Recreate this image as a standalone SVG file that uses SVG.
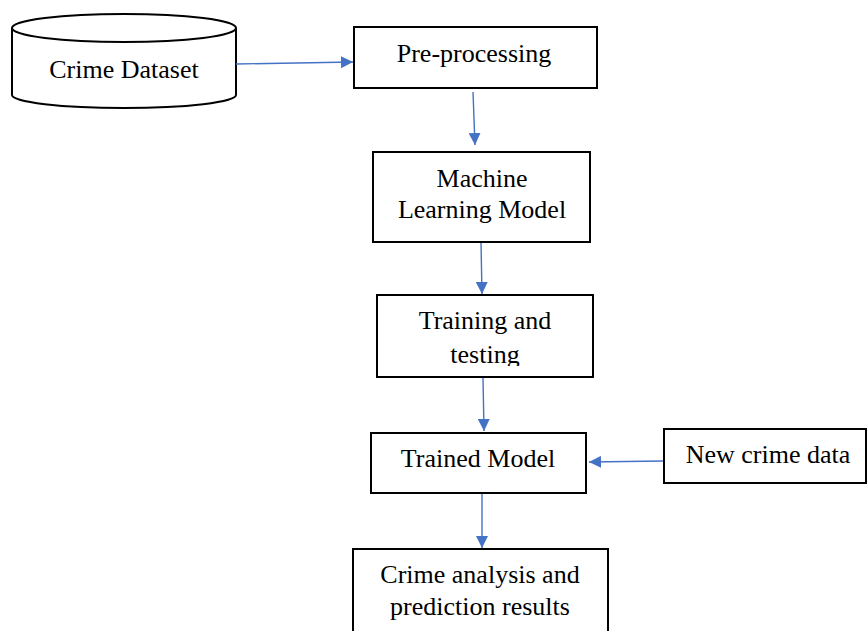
<svg xmlns="http://www.w3.org/2000/svg" width="867" height="631" viewBox="0 0 867 631">
<defs>
<style>
.box{fill:#fff;stroke:#000;stroke-width:2}
.t{font-family:"Liberation Serif","Times New Roman",serif;font-size:26px;fill:#000;text-anchor:middle}
.c{stroke:#4472C4;stroke-width:1.4;fill:none}
</style>
<marker id="ah" markerWidth="12" markerHeight="12" refX="12" refY="6" orient="auto" markerUnits="userSpaceOnUse">
<path d="M0,0 L12,6 L0,12 Z" fill="#4472C4"/>
</marker>
</defs>
<rect width="867" height="631" fill="#fff"/>
<g id="crime-dataset">
<path class="box" d="M12,28 A112,14 0 0 1 236,28 L236,95 A112,13 0 0 1 12,95 Z"/>
<path class="box" d="M12,28 A112,14 0 0 0 236,28" fill="none"/>
<text class="t" x="124" y="78">Crime Dataset</text>
</g>
<g id="pre-processing">
<rect class="box" x="354" y="27" width="243" height="61"/>
<text class="t" x="474" y="62">Pre-processing</text>
</g>
<g id="ml-model">
<rect class="box" x="373" y="152" width="217" height="90"/>
<text class="t" x="482" y="187">Machine</text>
<text class="t" x="482" y="218">Learning Model</text>
</g>
<g id="training">
<rect class="box" x="377" y="295" width="216" height="82"/>
<text class="t" x="485" y="329">Training and</text>
<text class="t" x="485" y="363">testing</text>
<rect x="378" y="366" width="214" height="10" fill="#fff"/>
</g>
<g id="trained-model">
<rect class="box" x="371" y="433" width="215" height="60"/>
<text class="t" x="478" y="467">Trained Model</text>
</g>
<g id="new-crime-data">
<rect class="box" x="664" y="429" width="202" height="54"/>
<text class="t" x="768" y="463">New crime data</text>
</g>
<g id="results">
<rect class="box" x="353" y="549" width="255" height="90"/>
<text class="t" x="480" y="583">Crime analysis and</text>
<text class="t" x="480" y="615">prediction results</text>
</g>
<g id="connectors">
<line class="c" x1="236" y1="64" x2="353" y2="62" marker-end="url(#ah)"/>
<line class="c" x1="473" y1="92" x2="475" y2="145" marker-end="url(#ah)"/>
<line class="c" x1="481" y1="243" x2="482" y2="294" marker-end="url(#ah)"/>
<line class="c" x1="483" y1="378" x2="484" y2="431" marker-end="url(#ah)"/>
<line class="c" x1="663" y1="461" x2="589" y2="462" marker-end="url(#ah)"/>
<line class="c" x1="482" y1="494" x2="482" y2="548" marker-end="url(#ah)"/>
</g>
</svg>
